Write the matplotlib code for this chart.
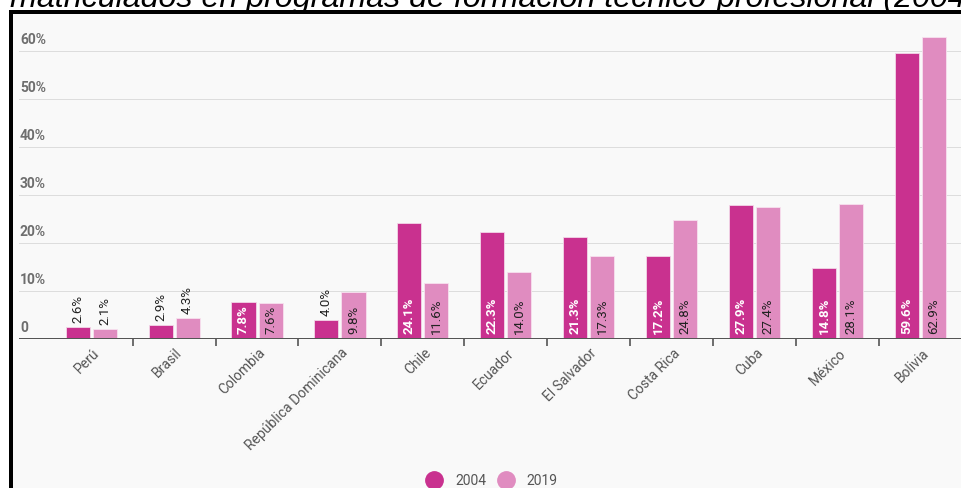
import matplotlib
matplotlib.use("Agg")
import matplotlib.pyplot as plt
from matplotlib.patches import Rectangle
from matplotlib.lines import Line2D
from matplotlib.transforms import offset_copy, blended_transform_factory
import numpy as np

# Data
countries = ["Perú", "Brasil", "Colombia", "República Dominicana", "Chile", "Ecuador",
             "El Salvador", "Costa Rica", "Cuba", "México", "Bolivia"]
share_2004 = [2.6, 2.9, 7.8, 4.0, 24.1, 22.3, 21.3, 17.2, 27.9, 14.8, 59.6]
share_2019 = [2.1, 4.3, 7.6, 9.8, 11.6, 14.0, 17.3, 24.8, 27.4, 28.1, 62.9]
years = ["2004", "2019"]
y_ticks = [0, 10, 20, 30, 40, 50, 60]
title = "matriculados en programas de formación técnico-profesional (2004-2019)"

c2004 = "#c9318f"
c2019 = "#e08cc0"
W, H = 962, 488

plt.rcParams["font.family"] = ["Roboto", "DejaVu Sans"]

fig = plt.figure(figsize=(W / 100, H / 100), dpi=100)
fig.patch.set_facecolor("white")

# black frame with light background
frame = Rectangle((11 / W, -0.2), 1.2, (H - 12) / H + 0.2, transform=fig.transFigure,
                  facecolor="#f9f9f9", edgecolor="black", linewidth=4 * 72 / 100, zorder=0)
fig.add_artist(frame)

fig.text(10 / W, (H - 7) / H, title, fontsize=23.2, style="italic",
         family="Liberation Sans", va="baseline", ha="left", color="black")

# axes: zero line at y=339 px, 4.8 px per percentage point
ymax = 66
bottom = (H - 339) / H
height = ymax * 4.8 / H
ax = fig.add_axes([19 / W, bottom, 1 - 19 / W, height])
ax.set_facecolor("none")
for s in ax.spines.values():
    s.set_visible(False)

x = np.arange(len(countries))
bw = 0.29
off = 0.163
ax.bar(x - off, share_2004, bw, color=c2004, edgecolor="#f3d6e8", linewidth=0.6, zorder=3)
ax.bar(x + off, share_2019, bw, color=c2019, edgecolor="#f7e1ee", linewidth=0.6, zorder=3)

ax.set_xlim(-0.87, 10.45)
ax.set_ylim(0, ymax)

# grid lines and y labels
for t in y_ticks:
    if t == 0:
        ax.axhline(0, color="#555555", lw=2 * 72 / 100, zorder=4)
    else:
        ax.axhline(t, color="#dddddd", lw=1 * 72 / 100, zorder=1)
    lab = "0" if t == 0 else f"{t}%"
    ax.text(0.001, t, lab, transform=offset_copy(blended_transform_factory(ax.transAxes, ax.transData),
                                                fig=fig, x=0, y=3.5, units="dots"),
            ha="left", va="bottom", fontsize=10, color="#6e6e6e", fontweight="bold")

ax.set_yticks([])
# tick marks at group boundaries
ax.set_xticks(x[:-1] + 0.5)
ax.set_xticks([10.5], minor=True)
ax.tick_params(axis="x", length=7 * 72 / 100, width=1.2, color="#555555", labelbottom=False)

# category labels
for xi, name in zip(x, countries):
    ax.text(xi, 0, name, transform=offset_copy(ax.transData, fig=fig, x=1, y=-7, units="dots"),
            rotation=45, ha="right", va="top", rotation_mode="anchor",
            fontsize=10, color="#555555")

# value labels
def label_bars(vals, xs, inside_color):
    for xi, v in zip(xs, vals):
        txt = f"{v:.1f}%"
        if v < 5:
            ax.text(xi, v, txt, transform=offset_copy(ax.transData, fig=fig, x=0, y=4, units="dots"),
                    rotation=90, ha="center", va="bottom", fontsize=9.5, color="#222222", zorder=5)
        else:
            ax.text(xi, 0, txt, transform=offset_copy(ax.transData, fig=fig, x=0, y=5, units="dots"),
                    rotation=90, ha="center", va="bottom", fontsize=9.5, color=inside_color,
                    fontweight="bold" if inside_color == "white" else "normal", zorder=5)

label_bars(share_2004, x - off, "white")
label_bars(share_2019, x + off, "#222222")

handles = [Line2D([], [], marker="o", linestyle="none", markersize=12.5, color=c)
           for c in (c2004, c2019)]
fig.legend(handles, years, loc="center", bbox_to_anchor=(489 / W, (H - 481) / H), ncol=2,
           frameon=False, fontsize=10, labelcolor="#555555", handletextpad=0.5,
           columnspacing=0.4, borderpad=0)

fig.savefig("out.png", dpi=100, facecolor="white")
